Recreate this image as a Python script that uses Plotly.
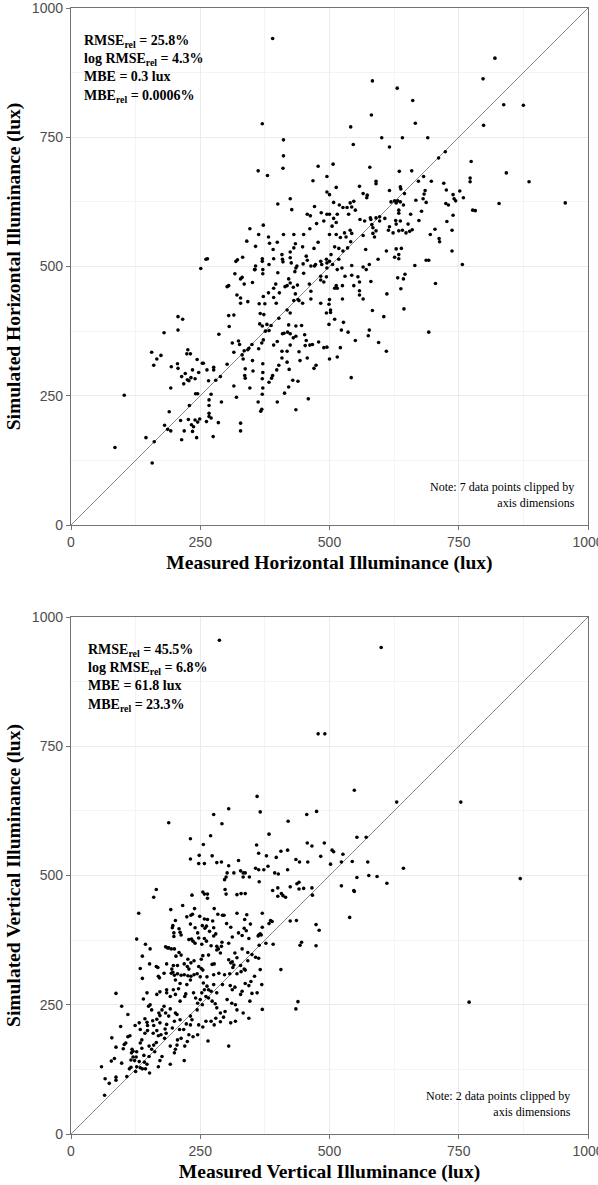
import plotly.graph_objects as go
from plotly.subplots import make_subplots

# ---------------- data ----------------
axis_ticks = [0, 250, 500, 750, 1000]
identity_line = [0, 1000]

horiz_measured = [
    390, 370, 411, 411, 410, 362, 380, 478, 468, 495, 495, 400, 424, 427, 457, 463, 471, 484, 346, 372,
    363, 340, 357, 382, 384, 399, 391, 411, 431, 450, 462, 475, 495, 489, 478, 470, 434, 431, 448, 424,
    408, 392,
    251, 261, 264, 319, 322, 332, 357, 355, 370, 370, 383, 409, 410, 424, 426, 435, 437, 449, 455, 457,
    464, 471, 473, 483, 485, 494, 495, 495,
    820, 797, 583, 631, 661, 581, 666, 837, 875, 798, 541, 546, 601, 616, 641, 690, 724, 711, 774, 507,
    578, 635, 659, 682, 672, 697, 772, 772, 842, 886, 590, 590, 558, 513, 721, 726, 752, 739, 637, 638,
    616, 645, 565, 573, 572, 685, 683, 667, 681, 687, 741, 744, 759, 725, 730, 828, 956, 777, 782, 619,
    626, 629, 632, 637, 643, 634, 634,
    508, 519, 526, 534, 540, 547, 543, 550, 537, 500,
    500, 508, 515, 513, 505, 500, 513, 521, 529, 532, 540, 543, 541, 510, 518, 526, 535, 503, 500, 524,
    506, 518,
    559, 568, 579, 580, 590, 597, 582, 597, 607, 584, 590,
    614, 623, 616, 628, 629, 637, 634, 641, 648, 655, 660, 652, 657,
    673, 678, 695, 704, 712, 713, 727, 739, 737, 737,
    565, 584, 587, 610, 570, 577, 594, 629, 639, 626, 634, 634, 665, 687, 692, 757, 565, 571, 543,
    705, 632, 643, 646, 638, 611, 644, 605, 583, 580, 565, 558, 558, 558, 555, 543, 530, 525, 513, 515,
    510, 500, 525, 502, 510, 527, 523, 536, 550, 575, 577, 595, 610, 521, 515, 500, 542, 692, 547, 515,
    85, 103, 157, 145, 161, 181, 187, 193, 190, 193, 194, 156, 160, 166, 174, 180, 207, 216, 207, 206,
    207, 214, 218, 221, 224, 226, 231, 225,
    228, 232, 235, 240, 244, 247, 256, 241, 245, 229, 227, 233, 240, 245, 249, 237, 243, 214, 219, 235,
    212,
    254, 263, 266, 276, 276, 280, 271, 267, 267, 267, 267, 262, 271, 285, 275, 291, 289, 286, 302, 306,
    305, 312, 324, 326, 315, 315, 320, 328, 328, 336, 337, 337, 333, 331, 335, 342, 344, 346, 350, 351,
    352, 362, 363, 367, 369, 370, 371, 370, 371, 371, 369, 372, 370, 376, 379, 383, 387, 373, 365, 366,
    364, 375, 372, 382,
    399, 388, 390, 383, 398, 402, 408, 418, 422, 429, 439, 421, 413, 435, 459, 457, 474, 470, 443, 441,
    453, 462, 467, 479, 495, 489, 408, 418, 424, 392, 399, 409, 419, 424, 412, 430, 435, 452, 455, 446,
    435, 421, 402, 424, 418, 397, 392, 392, 396, 403, 414,
    418, 430, 424, 438, 434, 439, 431, 441, 448, 464, 464, 461, 450, 433, 421, 400, 371, 351, 335, 331,
    317, 305, 302, 356, 371,
    483, 494, 489, 499, 494, 499, 502, 483, 483,
    315, 328, 328, 342, 321, 328,
]
horiz_simulated = [
    941, 776, 745, 714, 690, 685, 676, 694, 666, 674, 644, 621, 631, 610, 601, 598, 616, 604, 573, 580,
    562, 549, 539, 557, 545, 547, 533, 562, 562, 562, 573, 583, 601, 588, 547, 535, 544, 536, 538, 528,
    523, 515,
    496, 514, 515, 510, 513, 518, 501, 494, 510, 515, 504, 514, 509, 517, 507, 497, 501, 505, 520, 512,
    501, 501, 504, 510, 504, 514, 507, 497,
    903, 863, 859, 845, 821, 793, 777, 813, 812, 773, 770, 736, 749, 731, 749, 749, 722, 710, 703, 698,
    692, 684, 685, 674, 665, 665, 671, 664, 681, 664, 665, 660, 655, 653, 661, 648, 646, 639, 654, 650,
    647, 641, 641, 638, 633, 647, 640, 628, 631, 624, 631, 627, 633, 622, 619, 622, 623, 609, 608, 625,
    627, 623, 627, 625, 619, 609, 603,
    624, 619, 614, 614, 623, 626, 615, 609, 601, 639,
    601, 593, 601, 585, 578, 562, 562, 556, 565, 557, 570, 564, 548, 538, 535, 530, 536, 523, 510, 497,
    504, 514,
    591, 588, 594, 591, 594, 596, 581, 588, 593, 575, 569,
    570, 565, 577, 589, 582, 588, 569, 570, 565, 568, 571, 582, 601,
    589, 607, 562, 572, 554, 548, 587, 599, 570, 530,
    560, 564, 557, 530, 533, 504, 514, 534, 535, 518, 523, 515, 502, 512, 512, 504, 499, 494, 502,
    467, 478, 476, 485, 457, 447, 418, 403, 415, 471, 437, 445, 453, 470, 480, 483, 481, 463, 463, 458,
    458, 436, 437, 411, 398, 392, 377, 373, 357, 366, 377, 353, 336, 343, 325, 321, 285, 373, 463, 494,
    150, 251, 120, 169, 161, 193, 185, 182, 219, 265, 306, 334, 309, 321, 328, 372, 403, 398, 377, 312,
    303, 287, 273, 293, 331, 339, 331, 281,
    279, 285, 300, 283, 320, 295, 313, 254, 254, 231, 204, 194, 203, 199, 205, 190, 169, 165, 182, 181,
    202,
    313, 300, 279, 305, 300, 280, 253, 242, 231, 216, 210, 200, 207, 198, 171, 238, 287, 369, 311, 384,
    405, 352, 356, 349, 334, 269, 247, 197, 182, 289, 284, 302, 321, 329, 337, 339, 342, 265, 349, 318,
    298, 238, 341, 220, 224, 253, 265, 283, 295, 312, 352, 358, 385, 375, 388, 376, 386, 407, 389, 409,
    428, 428, 442, 449,
    238, 284, 289, 276, 300, 309, 323, 315, 301, 280, 278, 267, 255, 223, 244, 323, 309, 303, 318, 335,
    347, 348, 349, 354, 344, 343, 336, 336, 348, 348, 355, 370, 373, 370, 371, 362, 365, 368, 357, 386,
    385, 387, 400, 410, 416, 429, 440, 458, 466, 449, 461,
    463, 460, 468, 464, 447, 436, 434, 434, 429, 437, 452, 466, 487, 490, 476, 488, 486, 469, 466, 479,
    486, 463, 461, 494, 494,
    474, 480, 470, 427, 410, 388, 416, 429, 481,
    406, 439, 429, 432, 445, 476,
]

vert_measured = [
    287, 600, 478, 491, 548, 630, 754, 360, 305, 366, 276, 456, 475,
    869, 770,
    189, 292, 231, 270, 256, 231, 248, 247, 258, 273, 282, 291, 305, 324, 315, 302, 297, 300, 328, 333,
    333, 165, 160, 131, 127, 193, 216, 234, 239, 255, 258, 264, 264, 298, 300, 321, 329, 277, 284, 293,
    296, 321, 336, 224, 232, 235, 249, 258, 264, 274,
    202, 197, 196, 209, 213, 231, 240, 245, 254, 259, 262, 268, 276, 276, 280, 301, 309, 312, 324, 335,
    331,
    199, 199, 211, 228, 233, 236, 240, 247, 253, 262, 258, 271, 282, 292, 305, 331, 317, 321,
    144, 153, 138, 134, 138, 152, 165, 168, 183, 187, 189, 194, 200, 209, 213, 203, 206, 198, 195, 185,
    180, 171, 169, 194, 197, 200, 206, 213, 219, 219, 225, 228, 226, 232, 238, 247, 252, 255, 244, 238,
    232, 226, 250, 263, 255, 252, 266, 273, 277, 282, 285, 291, 289, 305, 309, 312, 315, 313, 307, 297,
    286, 276, 321, 329, 335, 328,
    420, 383, 359, 363, 378, 397, 406, 419, 457, 466, 490, 553, 571, 505, 508, 526, 483, 435, 442, 458,
    502, 523, 544, 574, 643, 357, 363, 373, 381, 337, 345, 394, 401, 419, 364, 553, 576, 592, 611, 437,
    441, 424, 450, 441, 466, 467, 523, 547, 548, 390, 400, 400, 407, 410, 415, 337, 539, 424, 436, 474,
    480, 446, 443, 474, 386, 389, 383, 370, 370, 347, 340, 339, 344, 363, 366, 368, 362, 377, 391, 364,
    342, 350, 357, 363, 342, 366, 355, 406, 337,
    65, 66, 74, 87, 87, 59, 78, 84, 79, 98, 87, 101, 108, 98, 87, 110, 96, 114, 110, 106,
    103, 118, 120, 117, 116, 123, 120, 132, 113, 116, 127, 134, 138, 144, 125, 152,
    126, 127, 137, 141, 142, 147, 151, 151, 156, 169, 172, 176, 162, 160, 165, 137, 134, 143, 148, 159,
    169, 174, 181, 184, 192, 192, 200, 202, 205, 206, 219, 220, 213, 225, 228, 236, 245, 265, 247, 255,
    261, 271, 277, 280, 289, 295, 305, 309, 318, 321, 333, 311, 328, 317,
    124, 132, 134, 143, 147, 148, 158, 160, 166, 170, 172, 176, 180, 153, 150, 156, 140, 147, 166, 172,
    185, 192, 202, 198, 208, 211, 220, 222, 237, 241, 245, 250, 254, 244, 231, 223, 211, 205, 200, 196,
    185, 182, 189, 183, 172, 166, 210, 218, 231, 234, 202, 192, 185,
    256, 263, 258, 253, 261, 266, 273, 279, 282, 289, 298, 302, 312, 318, 331, 337, 308, 282, 293, 276,
    271, 266, 224, 211, 202, 231,
    348, 344, 369, 350, 360, 346, 370, 344, 439, 435,
]
vert_simulated = [
    955, 941, 774, 774, 665, 642, 642, 653, 629, 623, 618, 618, 624,
    494, 255,
    602, 600, 571, 577, 560, 532, 539, 523, 523, 538, 525, 526, 519, 529, 505, 505, 492, 497, 509, 505,
    497, 473, 458, 427, 377, 434, 442, 462, 436, 468, 464, 464, 456, 473, 464, 463, 465, 436, 425, 423,
    423, 427, 415, 420, 423, 425, 421, 416, 415, 412,
    413, 403, 399, 397, 385, 406, 399, 389, 403, 398, 402, 392, 399, 383, 387, 407, 400, 381, 389, 398,
    384,
    389, 382, 390, 376, 377, 373, 369, 379, 367, 373, 378, 364, 363, 371, 369, 358, 350, 341,
    367, 358, 344, 320, 301, 329, 324, 322, 362, 360, 360, 358, 358, 351, 346, 344, 326, 326, 319, 329,
    311, 302, 305, 311, 313, 307, 310, 307, 308, 329, 324, 319, 338, 331, 335, 324, 320, 317, 310, 308,
    305, 306, 304, 304, 345, 338, 346, 328, 329, 356, 358, 363, 350, 337, 331, 333, 327, 322, 310, 308,
    311, 308, 310, 314, 319, 326,
    605, 580, 559, 543, 538, 535, 547, 549, 563, 557, 563, 574, 574, 549, 546, 541, 537, 531, 526, 526,
    522, 526, 527, 526, 514, 514, 511, 511, 518, 505, 497, 505, 503, 511, 488, 496, 500, 498, 485, 484,
    487, 478, 475, 474, 476, 462, 480, 471, 469, 471, 476, 460, 465, 461, 458, 465, 419, 412, 413, 405,
    394, 371, 365, 364, 413, 411, 407, 427, 400, 406, 424, 393, 378, 385, 387, 385, 383, 369, 367, 365,
    351, 347, 342, 340, 335, 318, 305, 318, 317,
    75, 107, 98, 110, 104, 130, 141, 146, 186, 137, 168, 165, 111, 247, 272, 231, 208, 190, 188, 176,
    173, 164, 160, 157, 143, 142, 149, 140, 126, 129, 130, 128, 126, 126, 121, 118,
    149, 159, 166, 152, 139, 135, 150, 170, 164, 130, 142, 150, 159, 172, 177, 182, 176, 195, 200, 195,
    190, 192, 185, 195, 170, 135, 157, 164, 172, 182, 142, 170, 185, 179, 192, 188, 192, 180, 211, 207,
    218, 218, 211, 224, 217, 226, 170, 215, 218, 240, 234, 253, 270, 284,
    210, 215, 202, 223, 216, 210, 219, 210, 222, 234, 229, 240, 247, 250, 247, 240, 261, 273, 270, 275,
    279, 266, 270, 279, 281, 257, 266, 271, 273, 263, 253, 260, 250, 240, 228, 213, 221, 231, 218, 205,
    212, 203, 228, 234, 215, 200, 202, 202, 211, 221, 234, 242, 273,
    292, 286, 279, 273, 266, 263, 257, 252, 244, 234, 237, 260, 279, 250, 276, 291, 287, 273, 289, 289,
    276, 279, 289, 291, 298, 298,
    295, 287, 289, 272, 273, 257, 241, 224, 256, 242,
]

stats_horizontal = ["RMSE<sub>rel</sub> = 25.8%", "log RMSE<sub>rel</sub> = 4.3%",
                    "MBE = 0.3 lux", "MBE<sub>rel</sub> = 0.0006%"]
stats_vertical = ["RMSE<sub>rel</sub> = 45.5%", "log RMSE<sub>rel</sub> = 6.8%",
                  "MBE = 61.8 lux", "MBE<sub>rel</sub> = 23.3%"]
note_horizontal = "Note: 7 data points clipped by<br>axis dimensions"
note_vertical = "Note: 2 data points clipped by<br>axis dimensions"
x_titles = ["Measured Horizontal Illuminance (lux)", "Measured Vertical Illuminance (lux)"]
y_titles = ["Simulated Horizontal Illuminance (lux)", "Simulated Vertical Illuminance (lux)"]

# ---------------- figure ----------------
W, H = 598, 1185
ML, MR, MT, MB = 71, 10, 8, 51
plot_h = 517
gap = H - MT - MB - 2 * plot_h
total = H - MT - MB

fig = make_subplots(rows=2, cols=1, vertical_spacing=gap / total)

serif = "Liberation Serif, Times New Roman, serif"
sans = "Liberation Sans, Arial, sans-serif"

datasets = [(horiz_measured, horiz_simulated), (vert_measured, vert_simulated)]
for i, (xs, ys) in enumerate(datasets, start=1):
    fig.add_trace(go.Scatter(x=identity_line, y=identity_line, mode="lines",
                             line=dict(color="#7a7a7a", width=0.9),
                             hoverinfo="skip", showlegend=False), row=i, col=1)
    fig.add_trace(go.Scatter(x=xs, y=ys, mode="markers",
                             marker=dict(color="black", size=3.6, line=dict(width=0)),
                             showlegend=False), row=i, col=1)

axis_common = dict(
    range=[0, 1000], tickvals=axis_ticks, showgrid=True, gridcolor="#ebebeb", gridwidth=1,
    minor=dict(dtick=125, tick0=0, showgrid=True, gridcolor="#f4f4f4", gridwidth=0.6, ticklen=0),
    zeroline=False, showline=True, linecolor="#737373", linewidth=1.4, mirror=True,
    ticks="outside", ticklen=4, tickcolor="#737373", tickwidth=1,
    tickfont=dict(family=sans, size=14, color="#4d4d4d"), automargin=False,
    ticklabeloverflow="allow",
)
for i in (1, 2):
    fig.update_xaxes(**axis_common, title=dict(text="<b>" + x_titles[i - 1] + "</b>",
                     font=dict(family=serif, size=19.5, color="black"), standoff=6), row=i, col=1)
    fig.update_yaxes(**axis_common, title=dict(text="<b>" + y_titles[i - 1] + "</b>",
                     font=dict(family=serif, size=19.5, color="black"), standoff=6), row=i, col=1)

stat_pos = [(11 / 517, 0.955), (15 / 517, 0.955)]
notes = [note_horizontal, note_vertical]
note_x = [(577 - 71) / 517, (573 - 71) / 517]
for i, stats in enumerate([stats_horizontal, stats_vertical]):
    xa = "x" if i == 0 else "x2"
    ya = "y" if i == 0 else "y2"
    fig.add_annotation(xref=xa + " domain", yref=ya + " domain",
                       x=stat_pos[i][0], y=stat_pos[i][1], xanchor="left", yanchor="top",
                       align="left", showarrow=False,
                       text="<br>".join("<b>" + s + "</b>" for s in stats),
                       font=dict(family=serif, size=14, color="black"))
    fig.add_annotation(xref=xa + " domain", yref=ya + " domain",
                       x=note_x[i], y=0.025, xanchor="right", yanchor="bottom",
                       align="right", showarrow=False, text=notes[i],
                       font=dict(family=serif, size=12, color="black"))

fig.update_layout(width=W, height=H, margin=dict(l=ML, r=MR, t=MT, b=MB),
                  paper_bgcolor="white", plot_bgcolor="white", showlegend=False)

# the page is photographed from its top-left corner, so drop the default body margin
fig.write_html("out.html", config={"displayModeBar": False},
               post_script="document.body.style.margin='0px';")
